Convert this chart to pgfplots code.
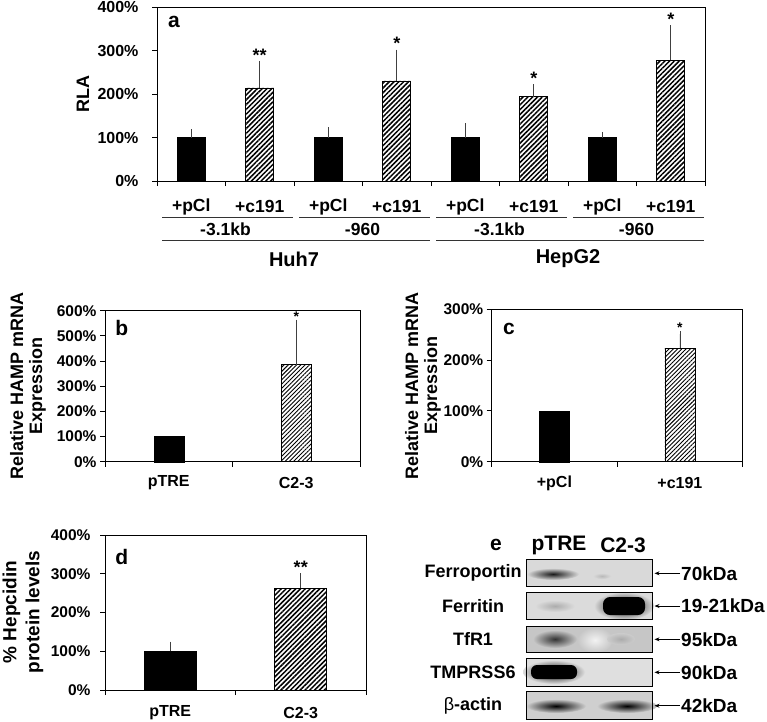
\documentclass[border=0pt]{standalone}
\usepackage{pgfplots}
\pgfplotsset{compat=1.18}
\usepackage{fontspec}
\setmainfont{Liberation Sans}
\usetikzlibrary{patterns.meta,arrows.meta}
\newcommand\fs[1]{\fontsize{#1}{#1}\selectfont\bfseries}
\pgfplotsset{
 panel/.style={
  scale only axis, anchor=north west, clip=false,
  axis line style={line width=0.9pt},
  every tick/.style={line width=0.9pt, black},
  tick align=outside, tick pos=left, major tick length=5pt,
  ymin=0, xmin=0.5, xticklabels={},
  /pgf/number format/assume math mode=true,
 },
 errs/.style={error bars/.cd, y dir=plus, y explicit,
   error bar style={line width=0.9pt, black!75},
   error mark options={line width=0.9pt, mark size=3pt, black!75}},
 stars/.style={draw=none, mark=none, nodes near coords, point meta=explicit symbolic,
   nodes near coords style={anchor=south, inner sep=0pt, font=\fs{#1}, black}},
}
\begin{document}
\begin{tikzpicture}
\useasboundingbox (0,0) rectangle (767pt,-721pt);
% ---------- panel a
\begin{axis}[panel, at={(157pt,-7pt)}, width=548pt, height=174pt,
  xmax=8.5, xtick={0.5,1.5,...,8.5}, ymax=400, ytick={0,100,200,300,400},
  yticklabels={0\%,100\%,200\%,300\%,400\%}, yticklabel style={font=\fs{16}, xshift=-10pt}]
\addplot[ybar, bar width=28pt, bar shift=0pt, fill=black, draw=black, errs]
 coordinates {(1,100) +- (0,12) (3,100) +- (0,17) (5,100) +- (0,26) (7,100) +- (0,6)};
\addplot[ybar, bar width=28pt, bar shift=0pt, draw=black, line width=0.8pt,
  pattern={Lines[angle=45,distance=3.4pt,line width=1.5pt]}, errs]
 coordinates {(2,214) +- (0,55) (4,230) +- (0,65) (6,194) +- (0,22) (8,278) +- (0,73)};
\addplot[stars=18] coordinates {(2,275)[**] (4,301)[*] (6,222)[*] (8,357)[*]};
\end{axis}
% ---------- panel b
\begin{axis}[panel, at={(105pt,-310.7pt)}, width=255pt, height=151pt,
  xmax=2.5, xtick={0.5,1.5,2.5}, ymax=600, ytick={0,100,200,300,400,500,600},
  yticklabels={0\%,100\%,200\%,300\%,400\%,500\%,600\%}, yticklabel style={font=\fs{15.5}}]
\addplot[ybar, bar width=30pt, bar shift=0pt, fill=black, draw=black]
 coordinates {(1,100)};
\addplot[ybar, bar width=30pt, bar shift=0pt, draw=black, line width=0.8pt,
  pattern={Lines[angle=45,distance=3pt,line width=0.9pt]}, errs]
 coordinates {(2,386) +- (0,167)};
\addplot[stars=14] coordinates {(2,556)[*]};
\end{axis}
% ---------- panel c
\begin{axis}[panel, at={(491.7pt,-309.3pt)}, width=251pt, height=152.4pt,
  xmax=2.5, xtick={0.5,1.5,2.5}, ymax=300, ytick={0,100,200,300},
  yticklabels={0\%,100\%,200\%,300\%}, yticklabel style={font=\fs{15.5}}]
\addplot[ybar, bar width=30pt, bar shift=0pt, fill=black, draw=black]
 coordinates {(1,100)};
\addplot[ybar, bar width=30pt, bar shift=0pt, draw=black, line width=0.8pt,
  pattern={Lines[angle=45,distance=3pt,line width=0.9pt]}, errs]
 coordinates {(2,223) +- (0,28)};
\addplot[stars=14] coordinates {(2,254)[*]};
\end{axis}
% ---------- panel d
\begin{axis}[panel, at={(105pt,-535pt)}, width=261pt, height=155pt,
  xmax=2.5, xtick={0.5,1.5,2.5}, ymax=400, ytick={0,100,200,300,400},
  yticklabels={0\%,100\%,200\%,300\%,400\%}, yticklabel style={font=\fs{15.5}, xshift=-6pt}]
\addplot[ybar, bar width=52pt, bar shift=0pt, fill=black, draw=black, errs]
 coordinates {(1,100) +- (0,17)};
\addplot[ybar, bar width=52pt, bar shift=0pt, draw=black, line width=0.8pt,
  pattern={Lines[angle=45,distance=3.4pt,line width=1.5pt]}, errs]
 coordinates {(2,263) +- (0,31)};
\addplot[stars=18] coordinates {(2,299)[**]};
\end{axis}
% ---------- annotations (pixel coordinates, y downward)
\begin{scope}[x=1pt,y=-1pt]
 % panel a
 \node[font=\fs{21}] at (174,22) {a};
 \node[rotate=90, font=\fs{18}] at (83,94) {RLA};
 \foreach \i/\t in {1/+pCl,2/+c191,3/+pCl,4/+c191,5/+pCl,6/+c191,7/+pCl,8/+c191}
   \node[font=\fs{17.5}] at ({157+68.5*(\i-0.5)},206.7) {\t};
 \foreach \l/\r in {162/293,299/430,436/567,573/704}
   \draw[line width=0.8pt, black!80] (\l,217.3) -- (\r,217.3);
 \foreach \c/\t in {225.5/-3.1kb,362.5/-960,499.5/-3.1kb,636.5/-960}
   \node[font=\fs{17.5}] at (\c,229.3) {\t};
 \draw[line width=0.8pt, black!80] (162,240.7) -- (430,240.7);
 \draw[line width=0.8pt, black!80] (436,240.7) -- (704,240.7);
 \node[font=\fs{20}] at (294,259) {Huh7};
 \node[font=\fs{20}] at (568,259) {HepG2};
 % panel b
 \node[font=\fs{21}] at (121.7,328.3) {b};
 \node[rotate=90, align=center, font=\fontsize{18}{19}\selectfont\bfseries] at (28,386) {Relative HAMP mRNA\\Expression};
 \node[font=\fs{16}] at (168.75,483) {pTRE};
 \node[font=\fs{16}] at (296.25,483) {C2-3};
 % panel c
 \node[font=\fs{21}] at (509,329) {c};
 \node[rotate=90, align=center, font=\fontsize{18}{19}\selectfont\bfseries] at (423,385.5) {Relative HAMP mRNA\\Expression};
 \node[font=\fs{16}] at (554.4,483) {+pCl};
 \node[font=\fs{16}] at (679.9,483) {+c191};
 % panel d
 \node[font=\fs{21}] at (121.7,556.7) {d};
 \node[rotate=90, align=center, font=\fontsize{19}{23}\selectfont\bfseries] at (23,612) {\% Hepcidin\\protein levels};
 \node[font=\fs{16}] at (170.25,713) {pTRE};
 \node[font=\fs{16}] at (300.75,713) {C2-3};
 % panel e
 \node[font=\fs{21}] at (496,545) {e};
 \node[font=\fs{21}] at (559,545) {pTRE};
 \node[font=\fs{21}] at (623,545) {C2-3};
 \foreach \y/\t in {573.3/Ferroportin,606/Ferritin,639.3/TfR1,672.3/TMPRSS6}
   \node[font=\fs{18}] at (473,\y) {\t};
 \node[font=\fs{18}] at (473,705.7) {{\mdseries β}-actin};
 % blot boxes
 \fill[gray!30] (526.7,559) rectangle (652.7,586.7);
 \fill[gray!28] (526.7,592.7) rectangle (652.7,619.3);
 \fill[gray!45] (526.7,626) rectangle (652.7,652.7);
 \fill[gray!25] (526.7,658) rectangle (652.7,686);
 \fill[gray!38] (526.7,691.7) rectangle (652.7,719.3);
 % bands
 \shade[inner color=black!90, outer color=gray!30] (553,574) ellipse (26 and 6);
 \shade[inner color=gray!55, outer color=gray!30] (602,576) ellipse (9 and 3);
 \shade[inner color=gray!65, outer color=gray!28] (555,606) ellipse (20 and 6);
 \shade[inner color=black, outer color=gray!28] (624,606) ellipse (30 and 14);
 \fill[black, rounded corners=7pt] (603,597) rectangle (645,615);
 \shade[inner color=white!90!gray, outer color=gray!45] (595,640) ellipse (18 and 13);
 \shade[inner color=black!80, outer color=gray!45] (555,639) ellipse (22 and 9);
 \shade[inner color=gray!65, outer color=gray!40] (621,639) ellipse (14 and 6);
 \shade[inner color=black, outer color=gray!25] (554,672) ellipse (31 and 12);
 \fill[black, rounded corners=6pt] (531,665) rectangle (577,679);
 \shade[inner color=black, outer color=gray!38] (556,706) ellipse (30 and 7);
 \shade[inner color=black, outer color=gray!38] (627,706) ellipse (30 and 7);
 \foreach \a/\b in {559/586.7,592.7/619.3,626/652.7,658/686,691.7/719.3}
   \draw[line width=1pt] (526.7,\a) rectangle (652.7,\b);
 % arrows and sizes
 \foreach \y/\t in {573.3/70kDa,606/19-21kDa,639.3/95kDa,672.3/90kDa,705.7/42kDa}{
   \draw[line width=0.9pt, -{Stealth[length=5pt,width=4pt]}] (680,\y) -- (654.5,\y);
   \node[font=\fs{19}, anchor=west, inner sep=0pt] at (681,\y) {\t};
 }
\end{scope}
\end{tikzpicture}
\end{document}
